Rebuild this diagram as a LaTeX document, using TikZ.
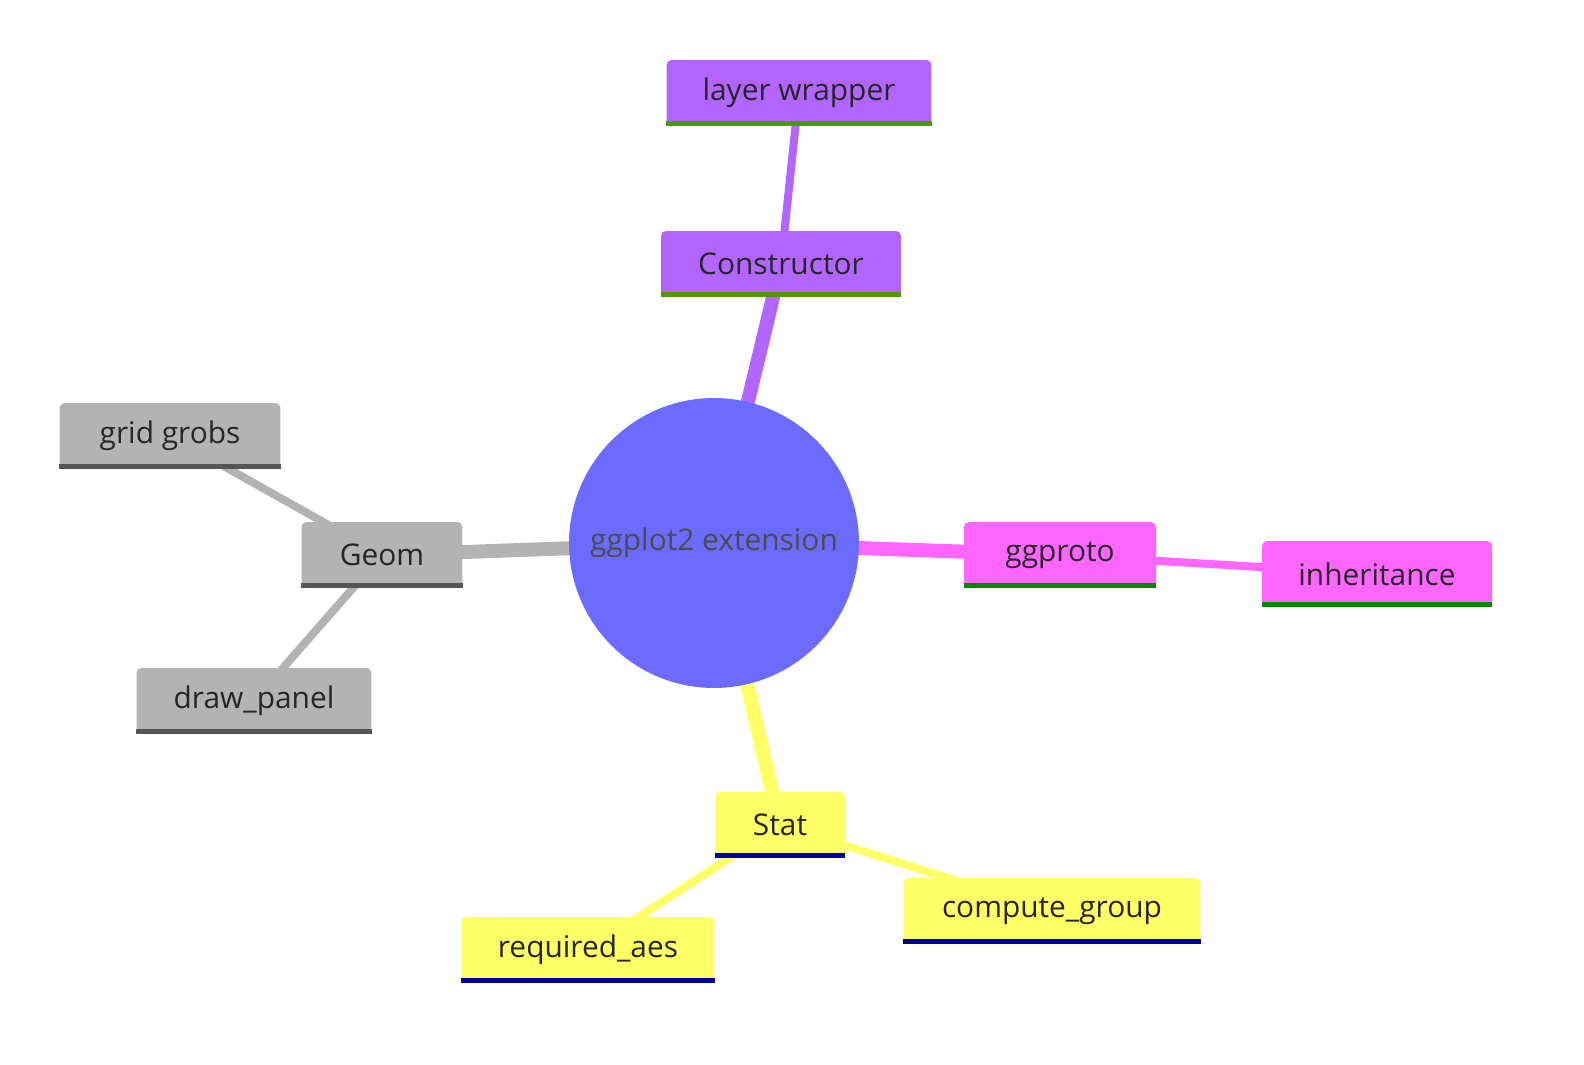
\documentclass[tikz,border=0pt]{standalone}
\usepackage{fontspec}
\setmainfont{Open Sans}
\usetikzlibrary{backgrounds}
\definecolor{rootc}{HTML}{6B6CFF}
\definecolor{purp}{HTML}{B266FF}
\definecolor{magc}{HTML}{FF66FF}
\definecolor{yelc}{HTML}{FFFF66}
\definecolor{grayc}{HTML}{B3B3B3}
\definecolor{grbar}{HTML}{4E9A06}
\definecolor{dgbar}{HTML}{008800}
\definecolor{navy}{HTML}{0000A0}
\definecolor{dkgray}{HTML}{555555}
\tikzset{
  box/.style={fill=#1, rounded corners=0.1cm, minimum height=1.32cm, inner sep=0pt,
    font=\fontsize{17}{20}\selectfont, text=black!85},
  bar/.style={line width=0.1cm, #1},
  trunk/.style={line width=0.28cm, #1},
  twig/.style={line width=0.16cm, #1},
}
\newcommand{\nodebar}[2]{\draw[bar=#2] ([yshift=0.05cm]#1.south west) -- ([yshift=0.05cm]#1.south east);}
\begin{document}
\begin{tikzpicture}[x=0.02cm,y=-0.02cm]
  \useasboundingbox (0,0) rectangle (1584,1064);
  % root
  \node[circle, fill=rootc, minimum size=5.8cm, inner sep=0pt,
        font=\fontsize{17}{20}\selectfont, text=black!70] (root) at (714,543) {ggplot2 extension};
  % first level
  \node[box=purp, minimum width=4.8cm] (constructor) at (781,264) {Constructor};
  \node[box=magc, minimum width=3.84cm] (ggproto) at (1060,555) {ggproto};
  \node[box=yelc, minimum width=2.6cm] (stat) at (780,825) {Stat};
  \node[box=grayc, minimum width=3.22cm] (geom) at (382,555) {Geom};
  % second level
  \node[box=purp, minimum width=5.3cm] (wrapper) at (799,93) {layer wrapper};
  \node[box=magc, minimum width=4.6cm] (inherit) at (1377,574) {inheritance};
  \node[box=yelc, minimum width=5.94cm] (compute) at (1052,911) {compute\_group};
  \node[box=yelc, minimum width=5.06cm] (required) at (588,950) {required\_aes};
  \node[box=grayc, minimum width=4.42cm] (grobs) at (170,436) {grid grobs};
  \node[box=grayc, minimum width=4.7cm] (panel) at (254,701) {draw\_panel};
  % bars
  \nodebar{constructor}{grbar}
  \nodebar{wrapper}{grbar}
  \nodebar{ggproto}{dgbar}
  \nodebar{inherit}{dgbar}
  \nodebar{stat}{navy}
  \nodebar{compute}{navy}
  \nodebar{required}{navy}
  \nodebar{geom}{dkgray}
  \nodebar{grobs}{dkgray}
  \nodebar{panel}{dkgray}
  % edges
  \begin{pgfonlayer}{background}
    \draw[trunk=purp] (root.center) -- (constructor.center);
    \draw[trunk=magc] (root.center) -- (ggproto.center);
    \draw[trunk=yelc] (root.center) -- (stat.center);
    \draw[trunk=grayc] (root.center) -- (geom.center);
    \draw[twig=purp] (constructor.center) -- (wrapper.center);
    \draw[twig=magc] (ggproto.center) -- (inherit.center);
    \draw[twig=yelc] (stat.center) -- (compute.center);
    \draw[twig=yelc] (stat.center) -- (required.center);
    \draw[twig=grayc] (geom.center) -- (grobs.center);
    \draw[twig=grayc] (geom.center) -- (panel.center);
  \end{pgfonlayer}
\end{tikzpicture}
\end{document}
